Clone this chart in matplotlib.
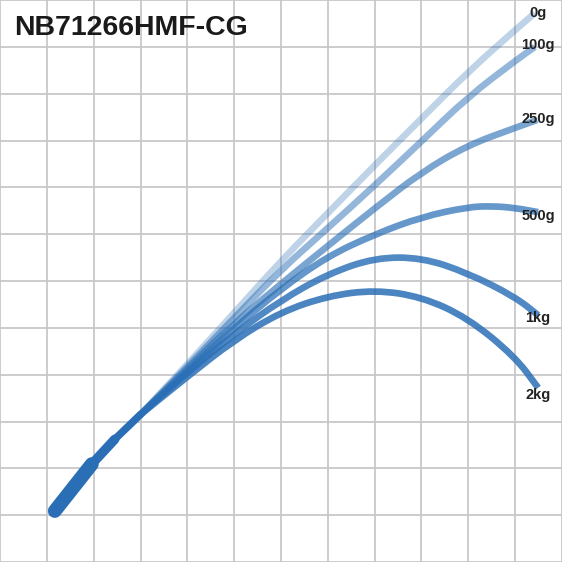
import matplotlib

matplotlib.use("Agg")
import matplotlib.pyplot as plt
from matplotlib.patches import PathPatch
from matplotlib.path import Path

TITLE = "NB71266HMF-CG"

# rod handle (grid units, 12 x 12 grid)
handle_x = [1.17, 1.96, 2.45, 2.99]
handle_y = [1.09, 2.09, 2.62, 3.14]

# bending curves for each load
loads = ["0g", "100g", "250g", "500g", "1kg", "2kg"]
curve_x = [
    [2.99, 3.99, 5.00, 6.00, 7.00, 8.01, 9.01, 9.99, 11.00, 11.42],
    [2.99, 3.99, 5.00, 6.00, 7.00, 8.01, 9.01, 9.99, 11.00, 11.42],
    [2.99, 3.99, 5.00, 6.00, 7.00, 8.01, 9.01, 9.99, 11.00, 11.47],
    [2.99, 3.99, 5.00, 6.00, 7.00, 8.01, 9.01, 9.99, 10.51, 11.00, 11.49],
    [2.99, 3.99, 5.00, 6.00, 7.00, 8.01, 9.01, 9.99, 11.00, 11.49],
    [2.99, 3.99, 5.00, 6.00, 7.00, 8.01, 9.01, 9.99, 11.00, 11.49],
]
curve_y = [
    [3.14, 4.21, 5.32, 6.43, 7.45, 8.48, 9.48, 10.46, 11.36, 11.72],
    [3.14, 4.16, 5.21, 6.24, 7.13, 8.05, 8.99, 9.93, 10.70, 11.00],
    [3.14, 4.12, 5.10, 5.94, 6.75, 7.56, 8.33, 8.90, 9.27, 9.44],
    [3.14, 4.06, 5.00, 5.83, 6.53, 7.00, 7.37, 7.58, 7.60, 7.56, 7.47],
    [3.14, 4.04, 4.87, 5.59, 6.15, 6.50, 6.50, 6.17, 5.66, 5.27],
    [3.14, 3.95, 4.74, 5.34, 5.68, 5.81, 5.66, 5.21, 4.38, 3.72],
]
label_y = [11.64, 10.95, 9.37, 7.31, 5.13, 3.49]
label_x = 11.49

BLUE = "#2a6fb6"
alphas = [0.3, 0.5, 0.62, 0.72, 0.82, 0.85]


def smooth_path(xs, ys):
    # quadratic bezier through the midpoints, keeps the ends
    pts = list(zip(xs, ys))
    verts = [pts[0]]
    codes = [Path.MOVETO]
    mid = lambda a, b: ((a[0] + b[0]) / 2, (a[1] + b[1]) / 2)
    verts.append(mid(pts[0], pts[1]))
    codes.append(Path.LINETO)
    for i in range(1, len(pts) - 1):
        verts += [pts[i], mid(pts[i], pts[i + 1])]
        codes += [Path.CURVE3, Path.CURVE3]
    verts.append(pts[-1])
    codes.append(Path.LINETO)
    return Path(verts, codes)


fig = plt.figure(figsize=(5.62, 5.62), dpi=100)
ax = fig.add_axes([0, 0, 1, 1])
ax.set_xlim(0, 12)
ax.set_ylim(0, 12)
for v in range(13):
    ax.axvline(v, color="#c8c8cc", lw=1.3, zorder=0)
    ax.axhline(v, color="#c8c8cc", lw=1.3, zorder=0)
ax.set_xticks([])
ax.set_yticks([])
for sp in ax.spines.values():
    sp.set_visible(False)

# handle: thick butt, then taper
widths = [10, 6.8, 5.4]
for i, w in enumerate(widths):
    ax.plot(handle_x[i:i + 2], handle_y[i:i + 2], color=BLUE, lw=w,
            solid_capstyle="round", zorder=3)

for xs, ys, a in zip(curve_x, curve_y, alphas):
    patch = PathPatch(smooth_path(xs, ys), facecolor="none", edgecolor=BLUE,
                      alpha=a, lw=4.8, capstyle="butt", joinstyle="round", zorder=2)
    ax.add_patch(patch)

for lab, y in zip(loads, label_y):
    ax.text(label_x, y, lab, ha="center", va="baseline", fontsize=10.5,
            fontweight="bold", color="#222222", family="Liberation Sans", zorder=4)

fig.text(14 / 562, 1 - 35 / 562, TITLE, ha="left", va="baseline",
         fontsize=20.5, fontweight="bold", color="#1a1a1a", family="Liberation Sans")

fig.savefig("out.png", dpi=100)
